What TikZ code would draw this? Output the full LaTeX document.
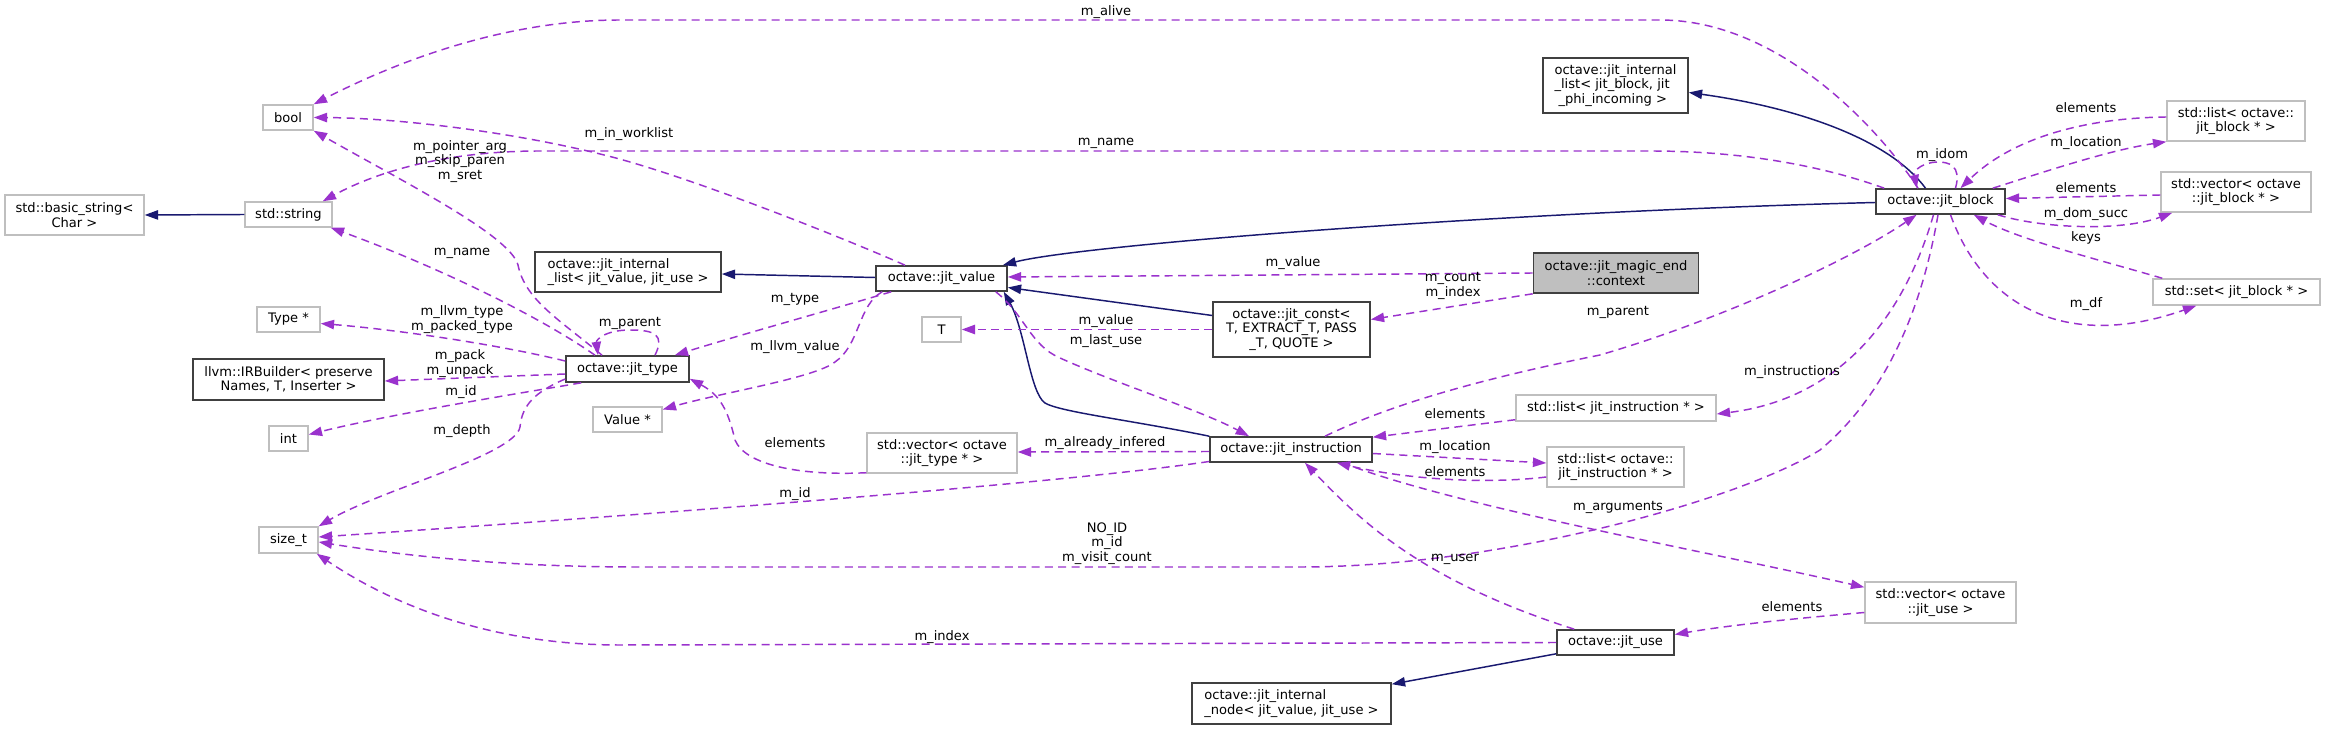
\documentclass[tikz,border=0pt]{standalone}
\usepackage{fontspec}
\setmainfont{DejaVu Sans}
\usetikzlibrary{arrows.meta,calc}
\definecolor{usagec}{HTML}{9A32CD}
\definecolor{inhc}{HTML}{191970}
\definecolor{grayb}{HTML}{BFBFBF}
\definecolor{darkb}{HTML}{404040}
\begin{document}
\begin{tikzpicture}[x=0.75pt,y=-0.75pt,
  every node/.style={font=\fontsize{9.8}{10.9}\selectfont, inner sep=0pt},
  sz/.style 2 args={minimum width=#1*0.75pt, minimum height=#2*0.75pt},
  ext/.style={draw=grayb, line width=1.1pt, fill=white, rectangle},
  cls/.style={draw=darkb, line width=1.2pt, fill=white, rectangle},
  focus/.style={draw=darkb, line width=1.2pt, fill=grayb, rectangle},
  usedge/.style={draw=usagec, line width=1.1pt, dash pattern=on 6pt off 4pt, -{Triangle[length=10pt,width=7pt]}},
  inhedge/.style={draw=inhc, line width=1.1pt, -{Triangle[length=10pt,width=7pt]}},
  lbl/.style={align=center}]
\path[use as bounding box, fill=white] (0,0) rectangle (2325,730);

% nodes
\node[ext, sz={50}{25}] (bool) at (288,117.5) {bool};
\node[ext, sz={139}{40}, align=center] (basicstr) at (74.5,215) {std::basic\_string<\\Char >};
\node[ext, sz={87}{25}] (stdstring) at (288.5,214.5) {std::string};
\node[ext, sz={63}{25}] (typeptr) at (288.5,319.5) {Type *};
\node[cls, sz={191}{41}, align=center] (irbuilder) at (288.5,379.5) {llvm::IRBuilder< preserve\\Names, T, Inserter >};
\node[ext, sz={39}{25}] (int) at (288.5,438.5) {int};
\node[ext, sz={59}{26}] (sizet) at (288.5,540) {size\_t};
\node[cls, sz={186}{40}, align=left] (ilistvu) at (628,272) {octave::jit\_internal\\\_list< jit\_value, jit\_use >};
\node[cls, sz={123}{26}] (jittype) at (627.5,369) {octave::jit\_type};
\node[ext, sz={69}{25}] (valueptr) at (627.5,419.5) {Value *};
\node[cls, sz={131}{25}] (jitvalue) at (941.5,278.5) {octave::jit\_value};
\node[ext, sz={39}{25}] (tnode) at (941.5,329.5) {T};
\node[ext, sz={150}{40}, align=center] (vecjt) at (942,453) {std::vector< octave\\::jit\_type * >};
\node[cls, sz={157}{55}, align=center] (jitconst) at (1291.5,329.5) {octave::jit\_const<\\T, EXTRACT\_T, PASS\\\_T, QUOTE >};
\node[cls, sz={162}{25}] (jitinstr) at (1291,449.5) {octave::jit\_instruction};
\node[cls, sz={199}{41}, align=left] (inode) at (1291.5,703.5) {octave::jit\_internal\\\_node< jit\_value, jit\_use >};
\node[cls, sz={145}{55}, align=left] (ilistblk) at (1615.5,85.5) {octave::jit\_internal\\\_list< jit\_block, jit\\\hspace*{3pt}\_phi\_incoming >};
\node[focus, sz={165}{40}, align=center] (context) at (1616,273) {octave::jit\_magic\_end\\::context};
\node[ext, sz={200}{26}] (listinstr) at (1616,408) {std::list< jit\_instruction * >};
\node[ext, sz={137}{40}, align=center] (listoinstr) at (1615.5,467) {std::list< octave::\\jit\_instruction * >};
\node[cls, sz={117}{25}] (jituse) at (1615.5,642.5) {octave::jit\_use};
\node[cls, sz={129}{25}] (jitblock) at (1940.5,201.5) {octave::jit\_block};
\node[ext, sz={151}{41}, align=center] (vecuse) at (1940.5,602.5) {std::vector< octave\\::jit\_use >};
\node[ext, sz={138}{40}, align=center] (listblk) at (2236,121) {std::list< octave::\\jit\_block * >};
\node[ext, sz={150}{40}, align=center] (vecblk) at (2236,192) {std::vector< octave\\::jit\_block * >};
\node[ext, sz={167}{26}] (setblk) at (2236.5,292) {std::set< jit\_block * >};

% inheritance
\draw[inhedge] ($(jitvalue.west)+(0,-1)$) -- ($(ilistvu.east)+(0,2)$);
\draw[inhedge] (stdstring.west) -- (basicstr.east);
\draw[inhedge] ($(jitblock.west)+(0,1)$) .. controls (1500,212) and (1080,245) .. ($(jitvalue.north east)+(-5,0)$);
\draw[inhedge] ($(jitconst.west)+(0,-14)$) -- ($(jitvalue.east)+(0,9)$);
\draw[inhedge] (jitinstr.north west) .. controls (1130,420) and (1060,412) .. (1045,403) .. controls (1030,393) and (1025,330) .. ($(jitvalue.south east)+(-4,0)$);
\draw[inhedge] ($(jitblock.north)+(-15,0)$) .. controls (1890,140) and (1800,108) .. ($(ilistblk.east)+(0,7)$);
\draw[inhedge] ($(jituse.south west)+(0,-2)$) -- ($(inode.north east)+(0,2)$);

% usage
\draw[usedge] ($(jitblock.north)+(-22.5,0)$) .. controls (1880,130) and (1780,20) .. (1660,20) -- (620,20) .. controls (500,20) and (390,65) .. (bool.north east);
\draw[usedge] ($(jitvalue.north)+(-36.5,0)$) .. controls (860,245) and (700,180) .. (612,157) .. controls (520,133) and (400,118) .. (bool.east);
\draw[usedge] ($(jittype.north)+(-25.5,0)$) .. controls (560,320) and (525,300) .. (518,265) .. controls (510,235) and (400,180) .. (bool.south east);
\draw[usedge] ($(jitblock.north west)+(9,0)$) .. controls (1820,165) and (1740,151) .. (1650,151) -- (540,151) .. controls (450,151) and (380,170) .. ($(stdstring.north east)+(-10,0)$);
\draw[usedge] ($(jittype.north)+(-32.5,0)$) .. controls (530,310) and (420,260) .. ($(stdstring.south east)+(-2,0)$);
\draw[usedge] ($(jittype.west)+(0,-8)$) .. controls (500,345) and (400,330) .. ($(typeptr.east)+(0,4)$);
\draw[usedge] ($(jittype.north)+(27.5,0)$) .. controls (665,335) and (655,330) .. (630,330) .. controls (605,330) and (596,340) .. ($(jittype.north)+(-29.5,0)$);
\draw[usedge] ($(jittype.west)+(0,5)$) -- ($(irbuilder.east)+(0,1.5)$);
\draw[usedge] ($(jittype.south west)+(16,0)$) .. controls (540,390) and (400,412) .. ($(int.east)+(0,-4)$);
\draw[usedge] ($(jittype.west)+(0,10)$) .. controls (535,392) and (522,405) .. (520,427) .. controls (515,455) and (380,490) .. (sizet.north east);
\draw[usedge] ($(jitvalue.south west)+(16,0)$) .. controls (830,310) and (740,335) .. ($(jittype.north east)+(-15,0)$);
\draw[usedge] ($(jitvalue.south west)+(7,0)$) .. controls (858,305) and (860,345) .. (835,362) .. controls (815,378) and (720,393) .. ($(valueptr.east)+(0,-10)$);
\draw[usedge] (jitconst.west) -- (tnode.east);
\draw[usedge] ($(jitvalue.south east)+(-12,0)$) .. controls (1025,315) and (1030,345) .. (1060,358) .. controls (1120,385) and (1200,410) .. ($(jitinstr.north)+(-42,0)$);
\draw[usedge] (context.west) -- ($(jitvalue.east)+(0,-1.5)$);
\draw[usedge] (context.south west) -- ($(jitconst.east)+(0,-10)$);
\draw[usedge] ($(jitinstr.north)+(34,0)$) .. controls (1400,400) and (1500,375) .. (1600,355) .. controls (1720,320) and (1850,260) .. ($(jitblock.south)+(-24,0)$);
\draw[usedge] ($(jitblock.south)+(-7,0)$) .. controls (1900,330) and (1830,400) .. ($(listinstr.east)+(0,6)$);
\draw[usedge] ($(jitblock.south)+(-2.5,0)$) .. controls (1920,320) and (1880,400) .. (1820,450) .. controls (1740,500) and (1500,567) .. (1300,567) -- (640,567) .. controls (500,567) and (400,555) .. ($(sizet.east)+(0,2)$);
\draw[usedge] ($(jitinstr.west)+(0,12)$) .. controls (1050,485) and (600,518) .. ($(sizet.east)+(0,-3)$);
\draw[usedge] (jituse.west) -- (620,645) .. controls (500,645) and (400,610) .. ($(sizet.south east)+(-2,0)$);
\draw[usedge] ($(jituse.north west)+(18,0)$) .. controls (1420,580) and (1360,520) .. ($(jitinstr.south)+(14,0)$);
\draw[usedge] ($(vecjt.south west)+(0,-1)$) .. controls (800,476) and (745,465) .. (735,440) .. controls (728,410) and (720,395) .. ($(jittype.south east)+(0,-4)$);
\draw[usedge] ($(jitinstr.west)+(0,2)$) -- ($(vecjt.east)+(0,-1)$);
\draw[usedge] ($(listinstr.south west)+(0,-2)$) -- ($(jitinstr.north east)+(0,1)$);
\draw[usedge] ($(jitinstr.east)+(0,4)$) -- ($(listoinstr.west)+(0,-4)$);
\draw[usedge] ($(listoinstr.west)+(0,10)$) .. controls (1480,485) and (1400,478) .. ($(jitinstr.south east)+(-36,0)$);
\draw[usedge] ($(jitinstr.south east)+(-30,0)$) .. controls (1450,505) and (1700,550) .. ($(vecuse.north west)+(0,6)$);
\draw[usedge] ($(vecuse.west)+(0,10)$) .. controls (1800,618) and (1730,625) .. ($(jituse.east)+(0,-8)$);
\draw[usedge] ($(jitblock.north)+(15,0)$) .. controls (1962,165) and (1948,162) .. (1938,162) .. controls (1924,162) and (1913,170) .. ($(jitblock.north)+(-23.5,0)$);
\draw[usedge] ($(listblk.west)+(0,-4)$) .. controls (2080,118) and (2010,140) .. ($(jitblock.north)+(20,0)$);
\draw[usedge] ($(jitblock.north east)+(-13,0)$) .. controls (2050,170) and (2110,150) .. (listblk.south west);
\draw[usedge] ($(vecblk.west)+(0,3)$) -- ($(jitblock.east)+(0,-3)$);
\draw[usedge] ($(jitblock.south east)+(-8,0)$) .. controls (2040,228) and (2120,232) .. ($(vecblk.south west)+(12,0)$);
\draw[usedge] ($(setblk.north west)+(10,0)$) .. controls (2100,260) and (2020,240) .. ($(jitblock.south east)+(-32,0)$);
\draw[usedge] ($(jitblock.south)+(10,0)$) .. controls (1985,310) and (2070,350) .. ($(setblk.south west)+(44,0)$);

% labels
\node[lbl] (l1) at (1106,12) {m\_alive};
\node[lbl] (l2) at (629,134) {m\_in\_worklist};
\node[lbl] (l3) at (460,161.5) {m\_pointer\_arg\\m\_skip\_paren\\m\_sret};
\node[lbl] (l4) at (1106,143) {m\_name};
\node[lbl] (l5) at (462,253) {m\_name};
\node[lbl] (l6) at (462,319.5) {m\_llvm\_type\\m\_packed\_type};
\node[lbl] (l7) at (630,323) {m\_parent};
\node[lbl] (l8) at (460,363.5) {m\_pack\\m\_unpack};
\node[lbl] (l9) at (461,392) {m\_id};
\node[lbl] (l10) at (462,431) {m\_depth};
\node[lbl] (l11) at (795,299) {m\_type};
\node[lbl] (l12) at (795,347) {m\_llvm\_value};
\node[lbl] (l13) at (1106,321) {m\_value};
\node[lbl] (l14) at (1106,341) {m\_last\_use};
\node[lbl] (l15) at (1293,263) {m\_value};
\node[lbl] (l16) at (1453,286) {m\_count\\m\_index};
\node[lbl] (l17) at (1618,312) {m\_parent};
\node[lbl] (l18) at (1792,372) {m\_instructions};
\node[lbl] (l19) at (1107,543.5) {NO\_ID\\m\_id\\m\_visit\_count};
\node[lbl] (l20) at (795,494) {m\_id};
\node[lbl] (l21) at (942,637) {m\_index};
\node[lbl] (l22) at (1455,559) {m\_user};
\node[lbl] (l23) at (795,443) {elements};
\node[lbl] (l24) at (1105,443) {m\_already\_infered};
\node[lbl] (l25) at (1455,414) {elements};
\node[lbl] (l26) at (1455,447) {m\_location};
\node[lbl] (l27) at (1455,472) {elements};
\node[lbl] (l28) at (1618,507) {m\_arguments};
\node[lbl] (l29) at (1792,607) {elements};
\node[lbl] (l30) at (1942,155) {m\_idom};
\node[lbl] (l31) at (2086,108) {elements};
\node[lbl] (l32) at (2086,143) {m\_location};
\node[lbl] (l33) at (2086,188) {elements};
\node[lbl] (l34) at (2086,214) {m\_dom\_succ};
\node[lbl] (l35) at (2086,238) {keys};
\node[lbl] (l36) at (2086,304) {m\_df};
\end{tikzpicture}
\end{document}
